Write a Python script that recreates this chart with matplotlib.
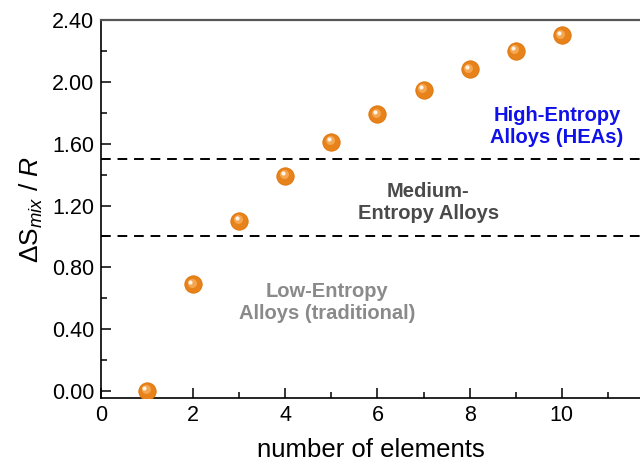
import numpy as np
import matplotlib
matplotlib.use('Agg')
import matplotlib.pyplot as plt
from matplotlib.transforms import offset_copy

plt.rcParams['font.family'] = 'Liberation Sans'
plt.rcParams['mathtext.fontset'] = 'custom'
plt.rcParams['mathtext.rm'] = 'Liberation Sans'
plt.rcParams['mathtext.it'] = 'Liberation Sans:italic'

# number of elements vs. configurational entropy
n_elements = [1, 2, 3, 4, 5, 6, 7, 8, 9, 10]
entropy = [0.00, 0.69, 1.10, 1.39, 1.61, 1.79, 1.95, 2.08, 2.20, 2.30]
boundaries = [1.0, 1.5]

fig = plt.figure(figsize=(6.4, 4.65), dpi=100)
ax = fig.add_axes([0.158, 0.144, 0.842, 0.813])

# dashed borders between the entropy regimes
for b in boundaries:
    ax.axhline(b, color='black', lw=1.4, dashes=(5, 3.5), zorder=1)

# "sphere" markers: base + lighter core + white highlight
ax.plot(n_elements, entropy, 'o', ms=12.5, color='#e8821a', mec='#dc7408',
        mew=0.6, zorder=3)
tr1 = offset_copy(ax.transData, fig=fig, x=-1.2, y=1.2, units='points')
ax.plot(n_elements, entropy, 'o', ms=6.5, color='#f4a650', mew=0,
        transform=tr1, zorder=4)
tr2 = offset_copy(ax.transData, fig=fig, x=-2.0, y=2.0, units='points')
ax.plot(n_elements, entropy, 'o', ms=3, color='#fff4e6', mew=0,
        transform=tr2, zorder=5)

ax.text(9.9, 1.71, 'High-Entropy\nAlloys (HEAs)', color='#1010e8',
        fontsize=14.5, fontweight='bold', ha='center', va='center',
        linespacing=1.2)
ax.text(7.1, 1.22, 'Medium-\nEntropy Alloys', color='#4a4a4a',
        fontsize=14.5, fontweight='bold', ha='center', va='center',
        linespacing=1.2)
ax.text(4.9, 0.57, 'Low-Entropy\nAlloys (traditional)', color='#8a8a8a',
        fontsize=14.5, fontweight='bold', ha='center', va='center',
        linespacing=1.2)

ax.set_xlim(0, 11.7)
ax.set_ylim(-0.045, 2.40)
ax.set_xticks(np.arange(0, 11, 2))
ax.set_xticks(np.arange(1, 12, 2), minor=True)
ax.set_yticks(np.arange(0, 2.41, 0.4))
ax.set_yticks(np.arange(0.2, 2.4, 0.4), minor=True)
ax.set_yticklabels(['%.2f' % v for v in np.arange(0, 2.41, 0.4)])

ax.tick_params(which='major', direction='in', length=7, width=1.1,
               labelsize=15.5, pad=5)
ax.tick_params(which='minor', direction='in', length=4, width=1.1)

ax.spines['right'].set_visible(False)
ax.spines['top'].set_color('#555555')
ax.spines['top'].set_linewidth(1.6)
ax.spines['left'].set_linewidth(1.2)
ax.spines['bottom'].set_linewidth(1.2)

ax.set_xlabel('number of elements', fontsize=18.5, labelpad=9)
ax.set_ylabel(r'$\Delta\mathrm{S}_{mix}\ /\ R$', fontsize=19, labelpad=5)

fig.savefig('out.png', dpi=100)
